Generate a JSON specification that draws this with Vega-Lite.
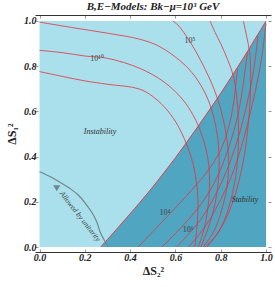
{
  "$schema": "https://vega.github.io/schema/vega-lite/v6.json",
  "width": 236,
  "height": 237,
  "autosize": "none",
  "padding": {"left": 35, "top": 15, "right": 4, "bottom": 35},
  "background": "white",
  "title": {"text": "B,E−Models: Bk−μ=10³ GeV", "font": "Liberation Serif", "fontSize": 11, "fontWeight": "bold", "fontStyle": "italic", "color": "#222", "offset": 3},
  "config": {
    "view": {"stroke": null},
    "axis": {"grid": false, "labelFont": "Liberation Serif", "labelFontSize": 10, "labelFontWeight": "bold", "labelFontStyle": "italic", "labelColor": "#222", "titleFont": "Liberation Serif", "titleFontSize": 12, "titleFontWeight": "bold", "titleColor": "#222", "tickColor": "#999", "domainColor": "#333", "domainWidth": 1}
  },
  "datasets": {
    "fill": [{"x0": 0, "x1": 1, "y0": 0, "y1": 1}],
    "bound": [
      {"x": 0.27, "y": 0}, {"x": 0.35, "y": 0.09}, {"x": 0.42, "y": 0.17}, {"x": 0.5, "y": 0.266}, {"x": 0.6, "y": 0.395},
      {"x": 0.7, "y": 0.534}, {"x": 0.8, "y": 0.68}, {"x": 0.9, "y": 0.836}, {"x": 1.0, "y": 1.0}
    ],
    "unit": [
      {"x": 0, "y": 0.333}, {"x": 0.05, "y": 0.31}, {"x": 0.098, "y": 0.282}, {"x": 0.14, "y": 0.255}, {"x": 0.171, "y": 0.23},
      {"x": 0.205, "y": 0.19}, {"x": 0.238, "y": 0.142}, {"x": 0.255, "y": 0.105}, {"x": 0.267, "y": 0.068}, {"x": 0.285, "y": 0.032}, {"x": 0.304, "y": 0.0}
    ],
    "arrow": [{"x": 0.076, "y": 0.26}],
    "curves": [
      {"c": "A3", "i": 0, "x": 0, "y": 0.776}, {"c": "A3", "i": 1, "x": 0.1, "y": 0.755}, {"c": "A3", "i": 2, "x": 0.2, "y": 0.735}, {"c": "A3", "i": 3, "x": 0.3, "y": 0.72}, {"c": "A3", "i": 4, "x": 0.444, "y": 0.698}, {"c": "A3", "i": 5, "x": 0.52, "y": 0.65}, {"c": "A3", "i": 6, "x": 0.58, "y": 0.585}, {"c": "A3", "i": 7, "x": 0.62, "y": 0.52}, {"c": "A3", "i": 8, "x": 0.655, "y": 0.44}, {"c": "A3", "i": 9, "x": 0.68, "y": 0.36}, {"c": "A3", "i": 10, "x": 0.695, "y": 0.27}, {"c": "A3", "i": 11, "x": 0.7, "y": 0.18}, {"c": "A3", "i": 12, "x": 0.695, "y": 0.09}, {"c": "A3", "i": 13, "x": 0.686, "y": 0.0},
      {"c": "A2", "i": 0, "x": 0, "y": 0.87}, {"c": "A2", "i": 1, "x": 0.1, "y": 0.86}, {"c": "A2", "i": 2, "x": 0.2, "y": 0.845}, {"c": "A2", "i": 3, "x": 0.3, "y": 0.835}, {"c": "A2", "i": 4, "x": 0.444, "y": 0.79}, {"c": "A2", "i": 5, "x": 0.55, "y": 0.73}, {"c": "A2", "i": 6, "x": 0.63, "y": 0.655}, {"c": "A2", "i": 7, "x": 0.68, "y": 0.58}, {"c": "A2", "i": 8, "x": 0.715, "y": 0.5}, {"c": "A2", "i": 9, "x": 0.74, "y": 0.41}, {"c": "A2", "i": 10, "x": 0.75, "y": 0.32}, {"c": "A2", "i": 11, "x": 0.748, "y": 0.22}, {"c": "A2", "i": 12, "x": 0.735, "y": 0.12}, {"c": "A2", "i": 13, "x": 0.718, "y": 0.05}, {"c": "A2", "i": 14, "x": 0.7, "y": 0.0},
      {"c": "A1", "i": 0, "x": 0, "y": 0.995}, {"c": "A1", "i": 1, "x": 0.15, "y": 0.97}, {"c": "A1", "i": 2, "x": 0.3, "y": 0.946}, {"c": "A1", "i": 3, "x": 0.444, "y": 0.919}, {"c": "A1", "i": 4, "x": 0.532, "y": 0.886}, {"c": "A1", "i": 5, "x": 0.642, "y": 0.805}, {"c": "A1", "i": 6, "x": 0.7, "y": 0.735}, {"c": "A1", "i": 7, "x": 0.745, "y": 0.65}, {"c": "A1", "i": 8, "x": 0.775, "y": 0.55}, {"c": "A1", "i": 9, "x": 0.79, "y": 0.45}, {"c": "A1", "i": 10, "x": 0.793, "y": 0.35}, {"c": "A1", "i": 11, "x": 0.785, "y": 0.25}, {"c": "A1", "i": 12, "x": 0.765, "y": 0.15}, {"c": "A1", "i": 13, "x": 0.74, "y": 0.07}, {"c": "A1", "i": 14, "x": 0.712, "y": 0.0},
      {"c": "T1", "i": 0, "x": 0.588, "y": 1.0}, {"c": "T1", "i": 1, "x": 0.611, "y": 0.982}, {"c": "T1", "i": 2, "x": 0.664, "y": 0.909}, {"c": "T1", "i": 3, "x": 0.722, "y": 0.805}, {"c": "T1", "i": 4, "x": 0.77, "y": 0.7}, {"c": "T1", "i": 5, "x": 0.8, "y": 0.61}, {"c": "T1", "i": 6, "x": 0.82, "y": 0.52}, {"c": "T1", "i": 7, "x": 0.832, "y": 0.44}, {"c": "T1", "i": 8, "x": 0.835, "y": 0.35}, {"c": "T1", "i": 9, "x": 0.825, "y": 0.25}, {"c": "T1", "i": 10, "x": 0.8, "y": 0.15}, {"c": "T1", "i": 11, "x": 0.77, "y": 0.07}, {"c": "T1", "i": 12, "x": 0.722, "y": 0.0},
      {"c": "T2", "i": 0, "x": 0.753, "y": 1.0}, {"c": "T2", "i": 1, "x": 0.775, "y": 0.95}, {"c": "T2", "i": 2, "x": 0.8, "y": 0.9}, {"c": "T2", "i": 3, "x": 0.83, "y": 0.83}, {"c": "T2", "i": 4, "x": 0.855, "y": 0.76}, {"c": "T2", "i": 5, "x": 0.87, "y": 0.67}, {"c": "T2", "i": 6, "x": 0.878, "y": 0.56}, {"c": "T2", "i": 7, "x": 0.878, "y": 0.45}, {"c": "T2", "i": 8, "x": 0.87, "y": 0.34}, {"c": "T2", "i": 9, "x": 0.85, "y": 0.23}, {"c": "T2", "i": 10, "x": 0.82, "y": 0.13}, {"c": "T2", "i": 11, "x": 0.78, "y": 0.05}, {"c": "T2", "i": 12, "x": 0.73, "y": 0.0},
      {"c": "T3", "i": 0, "x": 0.9, "y": 1.0}, {"c": "T3", "i": 1, "x": 0.915, "y": 0.93}, {"c": "T3", "i": 2, "x": 0.928, "y": 0.86}, {"c": "T3", "i": 3, "x": 0.932, "y": 0.76}, {"c": "T3", "i": 4, "x": 0.93, "y": 0.65}, {"c": "T3", "i": 5, "x": 0.92, "y": 0.53}, {"c": "T3", "i": 6, "x": 0.905, "y": 0.41}, {"c": "T3", "i": 7, "x": 0.88, "y": 0.29}, {"c": "T3", "i": 8, "x": 0.85, "y": 0.19}, {"c": "T3", "i": 9, "x": 0.81, "y": 0.1}, {"c": "T3", "i": 10, "x": 0.77, "y": 0.04}, {"c": "T3", "i": 11, "x": 0.74, "y": 0.0},
      {"c": "B1", "i": 0, "x": 0.435, "y": 0}, {"c": "B1", "i": 1, "x": 0.5, "y": 0.068}, {"c": "B1", "i": 2, "x": 0.554, "y": 0.125}, {"c": "B1", "i": 3, "x": 0.65, "y": 0.228}, {"c": "B1", "i": 4, "x": 0.74, "y": 0.333}, {"c": "B1", "i": 5, "x": 0.79, "y": 0.41}, {"c": "B1", "i": 6, "x": 0.82, "y": 0.48}, {"c": "B1", "i": 7, "x": 0.845, "y": 0.57}, {"c": "B1", "i": 8, "x": 0.86, "y": 0.66}, {"c": "B1", "i": 9, "x": 0.87, "y": 0.75}, {"c": "B1", "i": 10, "x": 0.875, "y": 0.79},
      {"c": "B2", "i": 0, "x": 0.54, "y": 0}, {"c": "B2", "i": 1, "x": 0.6, "y": 0.06}, {"c": "B2", "i": 2, "x": 0.656, "y": 0.12}, {"c": "B2", "i": 3, "x": 0.72, "y": 0.2}, {"c": "B2", "i": 4, "x": 0.77, "y": 0.28}, {"c": "B2", "i": 5, "x": 0.81, "y": 0.37}, {"c": "B2", "i": 6, "x": 0.845, "y": 0.47}, {"c": "B2", "i": 7, "x": 0.875, "y": 0.58}, {"c": "B2", "i": 8, "x": 0.895, "y": 0.69}, {"c": "B2", "i": 9, "x": 0.91, "y": 0.8}, {"c": "B2", "i": 10, "x": 0.918, "y": 0.862},
      {"c": "B3", "i": 0, "x": 0.605, "y": 0}, {"c": "B3", "i": 1, "x": 0.656, "y": 0.055}, {"c": "B3", "i": 2, "x": 0.71, "y": 0.12}, {"c": "B3", "i": 3, "x": 0.76, "y": 0.2}, {"c": "B3", "i": 4, "x": 0.81, "y": 0.3}, {"c": "B3", "i": 5, "x": 0.85, "y": 0.4}, {"c": "B3", "i": 6, "x": 0.885, "y": 0.51}, {"c": "B3", "i": 7, "x": 0.915, "y": 0.63}, {"c": "B3", "i": 8, "x": 0.94, "y": 0.75}, {"c": "B3", "i": 9, "x": 0.955, "y": 0.85}, {"c": "B3", "i": 10, "x": 0.964, "y": 0.935},
      {"c": "B4", "i": 0, "x": 0.657, "y": 0}, {"c": "B4", "i": 1, "x": 0.7, "y": 0.05}, {"c": "B4", "i": 2, "x": 0.75, "y": 0.12}, {"c": "B4", "i": 3, "x": 0.8, "y": 0.21}, {"c": "B4", "i": 4, "x": 0.85, "y": 0.32}, {"c": "B4", "i": 5, "x": 0.89, "y": 0.44}, {"c": "B4", "i": 6, "x": 0.925, "y": 0.57}, {"c": "B4", "i": 7, "x": 0.955, "y": 0.7}, {"c": "B4", "i": 8, "x": 0.978, "y": 0.82}, {"c": "B4", "i": 9, "x": 0.993, "y": 0.93}, {"c": "B4", "i": 10, "x": 1.0, "y": 0.99}
    ],
    "regions": [
      {"x": 0.267, "y": 0.51, "t": "Instability"},
      {"x": 0.907, "y": 0.208, "t": "Stability"}
    ],
    "clabels": [
      {"x": 0.254, "y": 0.832, "t": "10¹⁰"},
      {"x": 0.664, "y": 0.912, "t": "10⁵"},
      {"x": 0.554, "y": 0.15, "t": "10⁴"},
      {"x": 0.656, "y": 0.075, "t": "10⁶"}
    ],
    "ulabel": [{"x": 0.178, "y": 0.135, "t": "Allowed by unitarity"}]
  },
  "layer": [
    {
      "data": {"name": "fill"},
      "mark": {"type": "rect", "color": "#aadfec"},
      "encoding": {
        "x": {"field": "x0", "type": "quantitative", "scale": {"domain": [-0.02, 1.022], "nice": false, "zero": false},
          "axis": {"orient": "bottom", "values": [0, 0.2, 0.4, 0.6, 0.8, 1.0], "format": ".1f", "title": "ΔS₂²", "tickSize": -3, "labelPadding": 3, "titlePadding": 3}},
        "x2": {"field": "x1"},
        "y": {"field": "y0", "type": "quantitative", "scale": {"domain": [-0.022, 1.0265], "nice": false, "zero": false},
          "axis": {"orient": "left", "values": [0, 0.2, 0.4, 0.6, 0.8, 1.0], "format": ".1f", "title": "ΔS₁²", "domain": false, "tickSize": -3, "labelPadding": 2, "titlePadding": 5}},
        "y2": {"field": "y1"}
      }
    },
    {
      "data": {"name": "bound"},
      "mark": {"type": "area", "color": "#50a5c0", "opacity": 1},
      "encoding": {
        "x": {"field": "x", "type": "quantitative", "axis": {"orient": "top", "labels": false, "title": null, "values": [0, 0.2, 0.4, 0.6, 0.8, 1.0], "tickSize": -3}},
        "y": {"field": "y", "type": "quantitative", "axis": {"orient": "right", "labels": false, "title": null, "domain": false, "values": [0, 0.2, 0.4, 0.6, 0.8, 1.0], "tickSize": -3}},
        "y2": {"datum": 0}
      }
    },
    {
      "data": {"name": "bound"},
      "mark": {"type": "line", "color": "#e0404a", "strokeWidth": 1, "interpolate": "catmull-rom"},
      "encoding": {
        "x": {"field": "x", "type": "quantitative", "axis": null},
        "y": {"field": "y", "type": "quantitative", "axis": null}
      }
    },
    {
      "data": {"name": "curves"},
      "mark": {"type": "line", "color": "#e3343f", "strokeWidth": 0.9, "opacity": 0.9, "interpolate": "catmull-rom"},
      "encoding": {
        "x": {"field": "x", "type": "quantitative", "axis": null},
        "y": {"field": "y", "type": "quantitative", "axis": null},
        "detail": {"field": "c"},
        "order": {"field": "i", "type": "quantitative"}
      }
    },
    {
      "data": {"name": "unit"},
      "mark": {"type": "line", "color": "#6f8890", "strokeWidth": 1.2, "interpolate": "catmull-rom"},
      "encoding": {
        "x": {"field": "x", "type": "quantitative", "axis": null},
        "y": {"field": "y", "type": "quantitative", "axis": null}
      }
    },
    {
      "data": {"name": "arrow"},
      "mark": {"type": "point", "shape": "triangle-down", "filled": true, "color": "#6f8890", "size": 50, "opacity": 1},
      "encoding": {
        "x": {"field": "x", "type": "quantitative", "axis": null},
        "y": {"field": "y", "type": "quantitative", "axis": null}
      }
    },
    {
      "data": {"name": "regions"},
      "mark": {"type": "text", "font": "Liberation Serif", "fontStyle": "italic", "fontSize": 8, "color": "#333"},
      "encoding": {
        "x": {"field": "x", "type": "quantitative", "axis": null},
        "y": {"field": "y", "type": "quantitative", "axis": null},
        "text": {"field": "t"}
      }
    },
    {
      "data": {"name": "clabels"},
      "mark": {"type": "text", "font": "Liberation Serif", "fontSize": 8, "color": "#444"},
      "encoding": {
        "x": {"field": "x", "type": "quantitative", "axis": null},
        "y": {"field": "y", "type": "quantitative", "axis": null},
        "text": {"field": "t"}
      }
    },
    {
      "data": {"name": "ulabel"},
      "mark": {"type": "text", "font": "Liberation Serif", "fontStyle": "italic", "fontSize": 7.5, "color": "#444", "angle": 52},
      "encoding": {
        "x": {"field": "x", "type": "quantitative", "axis": null},
        "y": {"field": "y", "type": "quantitative", "axis": null},
        "text": {"field": "t"}
      }
    }
  ],
  "resolve": {"axis": {"x": "independent", "y": "independent"}}
}
